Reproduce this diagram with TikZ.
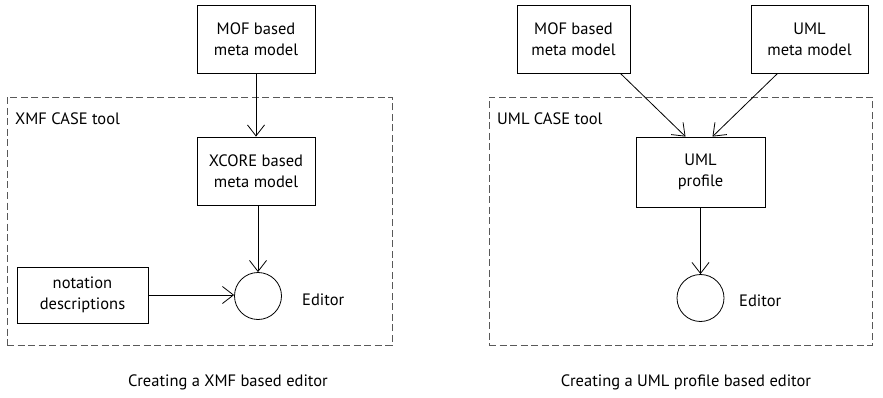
\documentclass[tikz,border=0pt]{standalone}
\usepackage{fontspec}
\setmainfont{PT Sans}
\usetikzlibrary{arrows.meta}
\begin{document}
\begin{tikzpicture}[x=1pt,y=-1pt,
  box/.style={draw,line width=0.8pt,minimum width=118pt,minimum height=68pt,align=center,font=\fontsize{16.5}{21}\selectfont,inner sep=0pt},
  circ/.style={draw,line width=0.8pt,circle,minimum size=47pt,inner sep=0pt},
  frame/.style={draw=black!65,line width=0.8pt,dash pattern=on 7pt off 3.5pt},
  lbl/.style={font=\fontsize{16.5}{20}\selectfont,inner sep=0pt},
  arr/.style={line width=0.8pt,-{Straight Barb[length=11pt,width=17pt,line width=0.8pt]}}]
\useasboundingbox (0,0) rectangle (883,398);
% left
\node[frame,minimum width=385pt,minimum height=248pt] (lframe) at (199.5,221) {};
\node[lbl,anchor=west] (ltitle) at (15,119) {XMF CASE tool};
\node[box] (lmof) at (256,39) {MOF based\\meta model};
\node[box] (xcore) at (256,171) {XCORE based\\meta model};
\node[circ] (leditor) at (258,296) {};
\node[lbl,anchor=west] (leditorl) at (302,300) {Editor};
\node[box,minimum width=131pt,minimum height=56pt] (notation) at (82.5,295) {notation\\descriptions};
\draw[arr] (lmof.south) -- (xcore.north);
\draw[arr] (xcore.south -| leditor.north) -- (leditor.north);
\draw[arr] (notation.east) -- (notation.east -| leditor.west);
\node[lbl] (lcap) at (228,382) {Creating a XMF based editor};
% right
\node[frame,minimum width=383pt,minimum height=248pt] (rframe) at (680.5,221) {};
\node[lbl,anchor=west] (rtitle) at (497,119) {UML CASE tool};
\node[box,minimum width=113pt] (rmof) at (573.5,39) {MOF based\\meta model};
\node[box,minimum width=117pt] (umlmeta) at (809.5,39) {UML\\meta model};
\node[box,minimum width=129pt,minimum height=70pt] (profile) at (700.5,172) {UML\\profile};
\node[circ] (reditor) at (700.5,298) {};
\node[lbl,anchor=west] (reditorl) at (739,301) {Editor};
\draw[arr] (rmof.south east) ++(-10,0) coordinate (a1) -- ([xshift=-15pt]profile.north);
\draw[arr] (umlmeta.south west) ++(27,0) coordinate (a2) -- ([xshift=12pt]profile.north);
\draw[arr] (profile) -- (reditor);
\node[lbl] (rcap) at (686,382) {Creating a UML profile based editor};
\end{tikzpicture}
\end{document}
